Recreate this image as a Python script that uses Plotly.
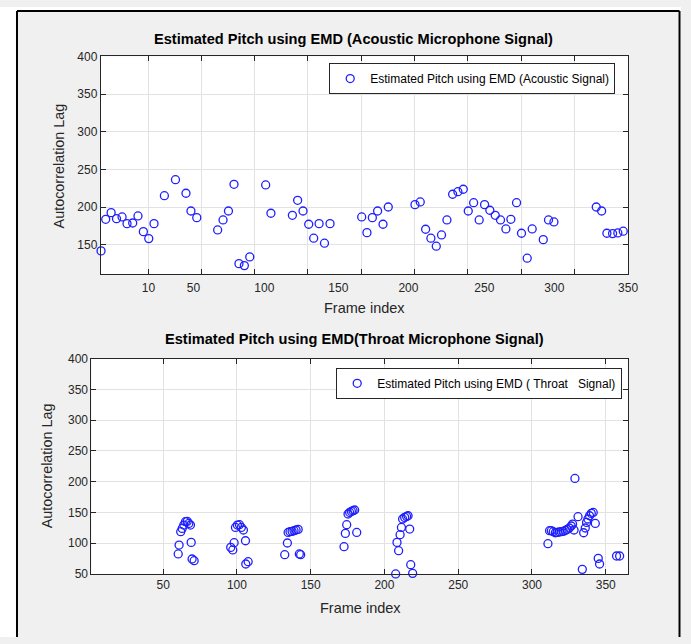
import plotly.graph_objects as go

# ---------------- data ----------------
# Top panel: Acoustic microphone signal (frame index, autocorrelation lag)
acoustic_frame = [-11.8, -8.6, -4.9, -1.2, 2.6, 6.0, 9.9, 13.5, 17.2, 20.9, 24.5,
                  31.6, 39.2, 46.4, 49.8, 53.8, 68.1, 71.8, 75.5, 79.3, 82.7, 86.4,
                  90.1, 101.0, 104.6, 119.3, 122.9, 126.6, 130.5, 133.9, 137.6, 141.3,
                  145.1, 166.8, 170.4, 174.1, 177.7, 181.4, 185.0, 203.3, 206.9, 210.6,
                  214.2, 217.9, 221.5, 225.2, 229.1, 232.7, 236.4, 239.8, 243.5, 247.3,
                  251.0, 254.6, 258.3, 261.9, 265.6, 269.0, 272.9, 276.3, 280.2, 283.6,
                  287.3, 291.2, 294.8, 298.5, 327.5, 331.2, 334.8, 338.7, 342.3, 346.0,
                  349.6]
acoustic_lag = [142.1, 184.0, 192.8, 184.8, 187.1, 178.2, 179.1, 188.4, 167.6, 158.4, 178.2,
                215.3, 236.5, 218.5, 195.0, 186.2, 169.9, 183.1, 195.0, 230.4, 125.2, 122.6,
                134.1, 229.5, 192.0, 189.3, 209.2, 195.0, 177.4, 158.9, 178.2, 152.3,
                178.2, 187.1, 166.3, 186.2, 195.0, 177.4, 200.3, 203.4, 207.0, 170.8,
                158.9, 148.3, 163.2, 183.1, 217.2, 220.6, 223.8, 195.0, 206.0, 183.1,
                203.4, 196.0, 189.3, 183.1, 171.2, 184.0, 206.0, 165.5, 132.4, 171.2,
                110.3, 157.0, 183.1, 180.5, 200.3, 195.0, 165.5, 165.0, 165.9, 168.2,
                171.6]

# Bottom panel: Throat microphone signal
throat_frame = [60.2, 60.8, 61.9, 62.9, 64.0, 65.1, 66.3, 67.4, 68.5, 69.0, 69.6, 71.0,
                95.8, 97.2, 98.1, 99.0, 100.3, 101.7, 103.0, 104.4, 105.8, 106.0, 107.6,
                132.4, 134.2, 134.7, 136.0, 137.4, 138.7, 140.1, 141.5, 142.3, 143.2,
                172.6, 173.5, 174.4, 175.3, 176.4, 177.6, 178.7, 179.8, 181.2,
                207.6, 208.5, 209.6, 210.6, 211.5, 212.3, 213.7, 215.0, 216.0, 217.1,
                217.8, 219.1,
                310.8, 311.9, 313.1, 314.4, 315.8, 317.1, 318.5, 319.8, 321.2, 322.6,
                323.9, 325.3, 326.6, 327.5, 328.5, 329.1, 331.2, 334.1, 335.0, 336.1,
                337.0, 337.9, 339.0, 340.2, 341.5, 342.9, 344.9, 345.8, 357.3, 359.4]
throat_lag = [82.5, 97.0, 118.7, 124.0, 129.5, 134.9, 135.4, 132.1, 129.5, 101.3, 74.3, 71.6,
              93.2, 89.0, 100.8, 125.6, 129.5, 130.0, 125.6, 121.4, 104.0, 66.2, 70.0,
              81.3, 100.3, 117.5, 118.7, 119.2, 120.3, 121.4, 122.4, 82.5, 81.3,
              94.3, 115.9, 130.0, 147.4, 150.0, 151.6, 152.8, 153.9, 117.5,
              50.0, 101.3, 87.8, 113.8, 125.6, 139.3, 141.9, 143.5, 144.6, 123.0,
              65.1, 51.0,
              99.2, 120.3, 120.3, 118.7, 117.0, 117.5, 118.2, 118.7, 119.2, 120.8,
              122.4, 124.7, 127.9, 131.1, 121.4, 205.2, 143.0, 57.5, 117.0, 124.7,
              133.8, 139.3, 144.6, 148.4, 150.0, 132.1, 75.3, 66.2, 79.2, 79.2]

# tick labels
top_xtick_text = ["10", "50", "100", "150", "200", "250", "300", "350"]
top_xtick_vals = [20.7, 51.5, 100.1, 150.8, 198.8, 250.8, 298.8, 349.3]
top_xgrid_vals = [20.7, 57.0, 93.5, 130.0, 166.5, 203.0, 239.5, 276.0, 312.5]
top_ytick_vals = [150, 200, 250, 300, 350, 400]
bot_xtick_vals = [50, 100, 150, 200, 250, 300, 350]
bot_ytick_vals = [50, 100, 150, 200, 250, 300, 350, 400]

title_top = "Estimated Pitch using EMD (Acoustic Microphone Signal)"
title_bot = "Estimated Pitch using EMD(Throat Microphone Signal)"
legend_top = "Estimated Pitch using EMD (Acoustic Signal)"
legend_bot = "Estimated Pitch using EMD (\u00a0Throat\u00a0\u00a0\u00a0Signal)"

# ---------------- figure ----------------
W, H = 691, 644
FONT = "Liberation Sans, Arial, sans-serif"
AX = "#262626"
GRID = "#e2e2e2"

# screen-pixel -> paper fraction (with small correction for the capture mapping)
SX, OX = 0.986, -1.5
SY, OY = 0.979, 5.9

def px(x):
    return min(max((x - OX) / SX / W, 0.0), 1.0)

def py(y):
    return min(max(1 - (y - OY) / SY / H, 0.0), 1.0)

marker = dict(symbol="circle-open", size=8, color="rgb(30,30,255)", line=dict(width=1.3))

fig = go.Figure()
fig.add_trace(go.Scatter(x=acoustic_frame, y=acoustic_lag, mode="markers", marker=marker,
                         name=legend_top, xaxis="x", yaxis="y", legend="legend",
                         cliponaxis=False))
fig.add_trace(go.Scatter(x=throat_frame, y=throat_lag, mode="markers", marker=marker,
                         name=legend_bot, xaxis="x2", yaxis="y2", legend="legend2",
                         cliponaxis=False))

axis_common = dict(showline=True, linecolor=AX, linewidth=1, mirror="ticks",
                   tickfont=dict(family=FONT, size=12, color=AX), zeroline=False)

fig.update_layout(
    width=W, height=H,
    margin=dict(l=0, r=0, t=0, b=0),
    paper_bgcolor="#f0f0f0", plot_bgcolor="white",
    font=dict(family=FONT, color=AX),
    xaxis=dict(domain=[px(99.3), px(627)], range=[-12, 349.4], anchor="y",
               tickmode="array", tickvals=top_xtick_vals, ticktext=top_xtick_text,
               showgrid=False, ticks="", ticklabelstandoff=3,
               minor=dict(tickmode="array", tickvals=top_xgrid_vals, showgrid=True,
                          gridcolor=GRID, ticks="inside", ticklen=5, tickcolor=AX),
               **axis_common),
    yaxis=dict(domain=[py(273), py(55.3)], range=[111.6, 400], anchor="x",
               tickmode="array", tickvals=top_ytick_vals, showgrid=True, gridcolor=GRID,
               ticks="inside", ticklen=5, tickcolor=AX, **axis_common),
    xaxis2=dict(domain=[px(90), px(626.7)], range=[1.4, 365], anchor="y2",
                tickmode="array", tickvals=bot_xtick_vals, showgrid=True, gridcolor=GRID,
                ticks="inside", ticklen=5, tickcolor=AX, **axis_common),
    yaxis2=dict(domain=[py(573.3), py(357.7)], range=[50, 400], anchor="x2",
                tickmode="array", tickvals=bot_ytick_vals, showgrid=True, gridcolor=GRID,
                ticks="inside", ticklen=5, tickcolor=AX, **axis_common),
    legend=dict(x=px(614), y=py(62), xanchor="right", yanchor="top",
                bgcolor="white", bordercolor=AX, borderwidth=1,
                font=dict(family=FONT, size=12, color="black")),
    legend2=dict(x=px(621), y=py(367), xanchor="right", yanchor="top",
                 bgcolor="white", bordercolor=AX, borderwidth=1,
                 font=dict(family=FONT, size=12, color="black")),
    showlegend=True,
)

# frame around the figure window (white outside, black border)
XB_L, XB_R, YB_T = px(15.5), min(px(687), 689.5 / W), py(10)
shapes = [
    dict(type="rect", xref="paper", yref="paper", x0=0, x1=1, y0=YB_T, y1=1,
         fillcolor="white", line=dict(width=0), layer="below"),
    dict(type="rect", xref="paper", yref="paper", x0=0, x1=XB_L, y0=0, y1=1,
         fillcolor="white", line=dict(width=0), layer="below"),
    dict(type="rect", xref="paper", yref="paper", x0=XB_R, x1=1, y0=0, y1=1,
         fillcolor="white", line=dict(width=0), layer="below"),
    dict(type="line", xref="paper", yref="paper", x0=XB_L, x1=XB_R, y0=YB_T, y1=YB_T,
         line=dict(color="black", width=2)),
    dict(type="line", xref="paper", yref="paper", x0=XB_L, x1=XB_L, y0=0, y1=YB_T,
         line=dict(color="black", width=2)),
    dict(type="line", xref="paper", yref="paper", x0=XB_R, x1=XB_R, y0=0, y1=YB_T,
         line=dict(color="black", width=2)),
]
fig.update_layout(shapes=shapes)

ann = []
def text(x, y, s, size, bold=False, angle=0):
    ann.append(dict(xref="paper", yref="paper", x=px(x), y=py(y), text=s,
                    showarrow=False, xanchor="center", yanchor="middle", textangle=angle,
                    font=dict(family=FONT, size=size, color="black" if bold else AX)))

text(352, 38, "<b>" + title_top + "</b>", 14.6, bold=True)
text(363, 307, "Frame index", 14.5)
text(58, 165, "Autocorrelation Lag", 14.4, angle=-90)
text(353, 338, "<b>" + title_bot + "</b>", 14.6, bold=True)
text(359, 607, "Frame index", 14.5)
text(45, 465, "Autocorrelation Lag", 14.4, angle=-90)
fig.update_layout(annotations=ann)

fig.write_html(
    "out.html",
    config={"displayModeBar": False},
    post_script=(
        "document.documentElement.style.overflow='hidden';"
        "document.body.style.overflow='hidden';"
        "document.body.style.margin='0px';document.body.style.padding='0px';"
        "var gd=document.getElementById('{plot_id}');"
        "gd.style.position='fixed';gd.style.top='0px';gd.style.left='0px';"
    ),
)
